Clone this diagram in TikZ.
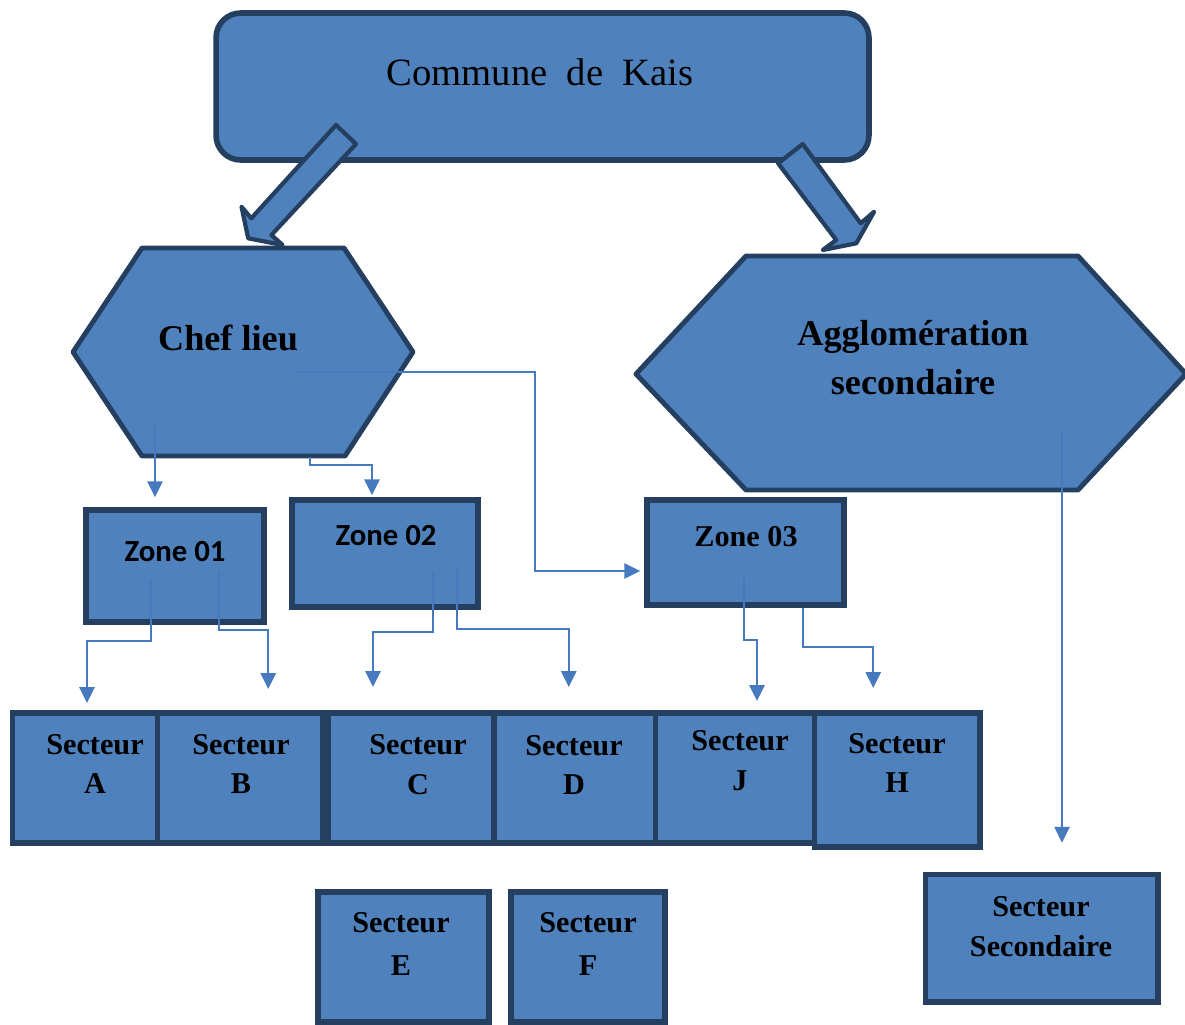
\documentclass[tikz,border=0pt]{standalone}
\usepackage{fontspec}
\setmainfont{Liberation Serif}
\newfontfamily\calibri{Carlito}
\usetikzlibrary{arrows.meta,calc}
\definecolor{boxblue}{HTML}{4F81BD}
\definecolor{boxedge}{HTML}{243F60}
\definecolor{linkblue}{HTML}{4779BF}

\begin{document}
\begin{tikzpicture}[x=0.02cm, y=-0.02cm,
		zonebox/.style={draw=boxedge, fill=boxblue, line width=3.2pt, rectangle, inner sep=0pt},
		hexa/.style={draw=boxedge, fill=boxblue, line width=2.8pt, line join=round},
		bigarrow/.style={draw=boxedge, fill=boxblue, line width=2.4pt, line join=round},
		link/.style={draw=linkblue, line width=1.4pt, -{Triangle[width=8.5pt,length=9pt]}},
		titletext/.style={inner sep=0pt, font=\fontsize{22}{26}\selectfont},
		bigtext/.style={inner sep=0pt, align=center, font=\bfseries\fontsize{20.6}{27.8}\selectfont},
		sectext/.style={inner sep=0pt, align=center, font=\bfseries\fontsize{17.2}{22.7}\selectfont},
		zonetext/.style={inner sep=0pt, font=\calibri\bfseries\fontsize{17.5}{21}\selectfont}]
		\useasboundingbox (0,0) rectangle (1185,1024);

		% commune
		\node (commune) [zonebox, rounded corners=14pt, minimum width=13.06cm, minimum height=2.94cm] at (542.5,86.5) {};
		\node (communetext) [titletext] at (540,72) {Commune\ \ de\ \ Kais};

		% chef lieu et agglomeration
		\draw [hexa] (73,352) -- (142,248) -- (344,248) -- (413,352) -- (345,456) -- (142,456) -- cycle;
		\node (chef) [bigtext] at (228,338) {Chef lieu};
		\draw [hexa] (636,374) -- (746,256) -- (1078,256) -- (1186,374) -- (1078,490) -- (746,490) -- cycle;
		\node (agglo) [bigtext] at (913,358) {Agglomération\\secondaire};

		% grosses fleches
		\draw [bigarrow] (336,125) -- (356,144) -- (271.4,235) -- (282.6,245) -- (248.2,238.3) -- (241.5,206.7) -- (251.3,218.3) -- cycle;
		\draw [bigarrow] (802.7,144) -- (778.1,163.3) -- (836.2,240) -- (822.8,250) -- (856.3,243.3) -- (874.1,211.7) -- (860.7,223.3) -- cycle;

		% zones
		\node (zone1) [zonebox, minimum width=3.56cm, minimum height=2.24cm] at (175,566) {};
		\node (zone1text) [zonetext] at (175,552) {Zone 01};
		\node (zone2) [zonebox, minimum width=3.72cm, minimum height=2.14cm] at (385,553.5) {};
		\node (zone2text) [zonetext] at (386,536) {Zone 02};
		\node (zone3) [zonebox, minimum width=3.94cm, minimum height=2.1cm] at (745.5,552.5) {};
		\node (zone3text) [sectext] at (746,537) {Zone 03};

		% secteurs
		\node (secA) [zonebox, minimum width=2.9cm, minimum height=2.6cm] at (85,777.75) {};
		\node (secB) [zonebox, minimum width=3.31cm, minimum height=2.6cm] at (240.25,777.75) {};
		\node (secC) [zonebox, minimum width=3.32cm, minimum height=2.6cm] at (411,777.75) {};
		\node (secD) [zonebox, minimum width=3.23cm, minimum height=2.6cm] at (574.75,777.75) {};
		\node (secJ) [zonebox, minimum width=3.18cm, minimum height=2.6cm] at (735,777.75) {};
		\node (secH) [zonebox, minimum width=3.31cm, minimum height=2.68cm] at (897.25,779.75) {};
		\node (secE) [zonebox, minimum width=3.42cm, minimum height=2.6cm] at (403.5,956.75) {};
		\node (secF) [zonebox, minimum width=3.08cm, minimum height=2.6cm] at (588,956.75) {};
		\node (secS) [zonebox, minimum width=4.65cm, minimum height=2.55cm] at (1041.75,938.25) {};

		\node (secAtext) [sectext] at (95,764) {Secteur\\A};
		\node (secBtext) [sectext] at (241,764) {Secteur\\B};
		\node (secCtext) [sectext] at (418,765) {Secteur\\C};
		\node (secDtext) [sectext] at (574,765) {Secteur\\D};
		\node (secJtext) [sectext] at (740,761) {Secteur\\J};
		\node (secHtext) [sectext] at (897,763) {Secteur\\H};
		\node (secEtext) [sectext] at (401,944) {Secteur\\[2pt]E};
		\node (secFtext) [sectext] at (588,944) {Secteur\\[2pt]F};
		\node (secStext) [sectext] at (1041,927) {Secteur\\Secondaire};

		% liaisons
		\coordinate (cl1) at (155,422);
		\coordinate (cl2) at (310,457);
		\coordinate (cl3) at (297,372);
		\coordinate (z1a) at (151,580);
		\coordinate (z1b) at (219,572);
		\coordinate (z2a) at (433,572);
		\coordinate (z2b) at (457,568);
		\coordinate (z3a) at (744,577);
		\coordinate (z3b) at (803,608);
		\coordinate (ag1) at (1062,430);

		\draw [link] (cl1) -- ($(cl1 |- zone1.north)+(0,-10)$);
		\draw [link] (cl2) -- ++(0,8) -| ($(zone2.north)+(-13,-2)$);
		\draw [link] (cl3) -- ++(238,0) |- ($(zone3.west)+(-4,18.5)$);
		\draw [link] (z1a) -- ++(0,61) -| ($(secA.north)+(2,-7)$);
		\draw [link] (z1b) -- ++(0,58) -| ($(secB.north)+(28,-21)$);
		\draw [link] (z2a) -- ++(0,60) -| ($(secC.north)+(-38,-23)$);
		\draw [link] (z2b) -- ++(0,61) -| ($(secD.north)+(-6,-23)$);
		\draw [link] (z3a) -- ++(0,63) -| ($(secJ.north)+(22,-9)$);
		\draw [link] (z3b) -- ++(0,39) -| ($(secH.north)+(-24,-22)$);
		\draw [link] (ag1) -- ($(ag1 |- secS.north)+(0,-29)$);
	\end{tikzpicture}
\end{document}
